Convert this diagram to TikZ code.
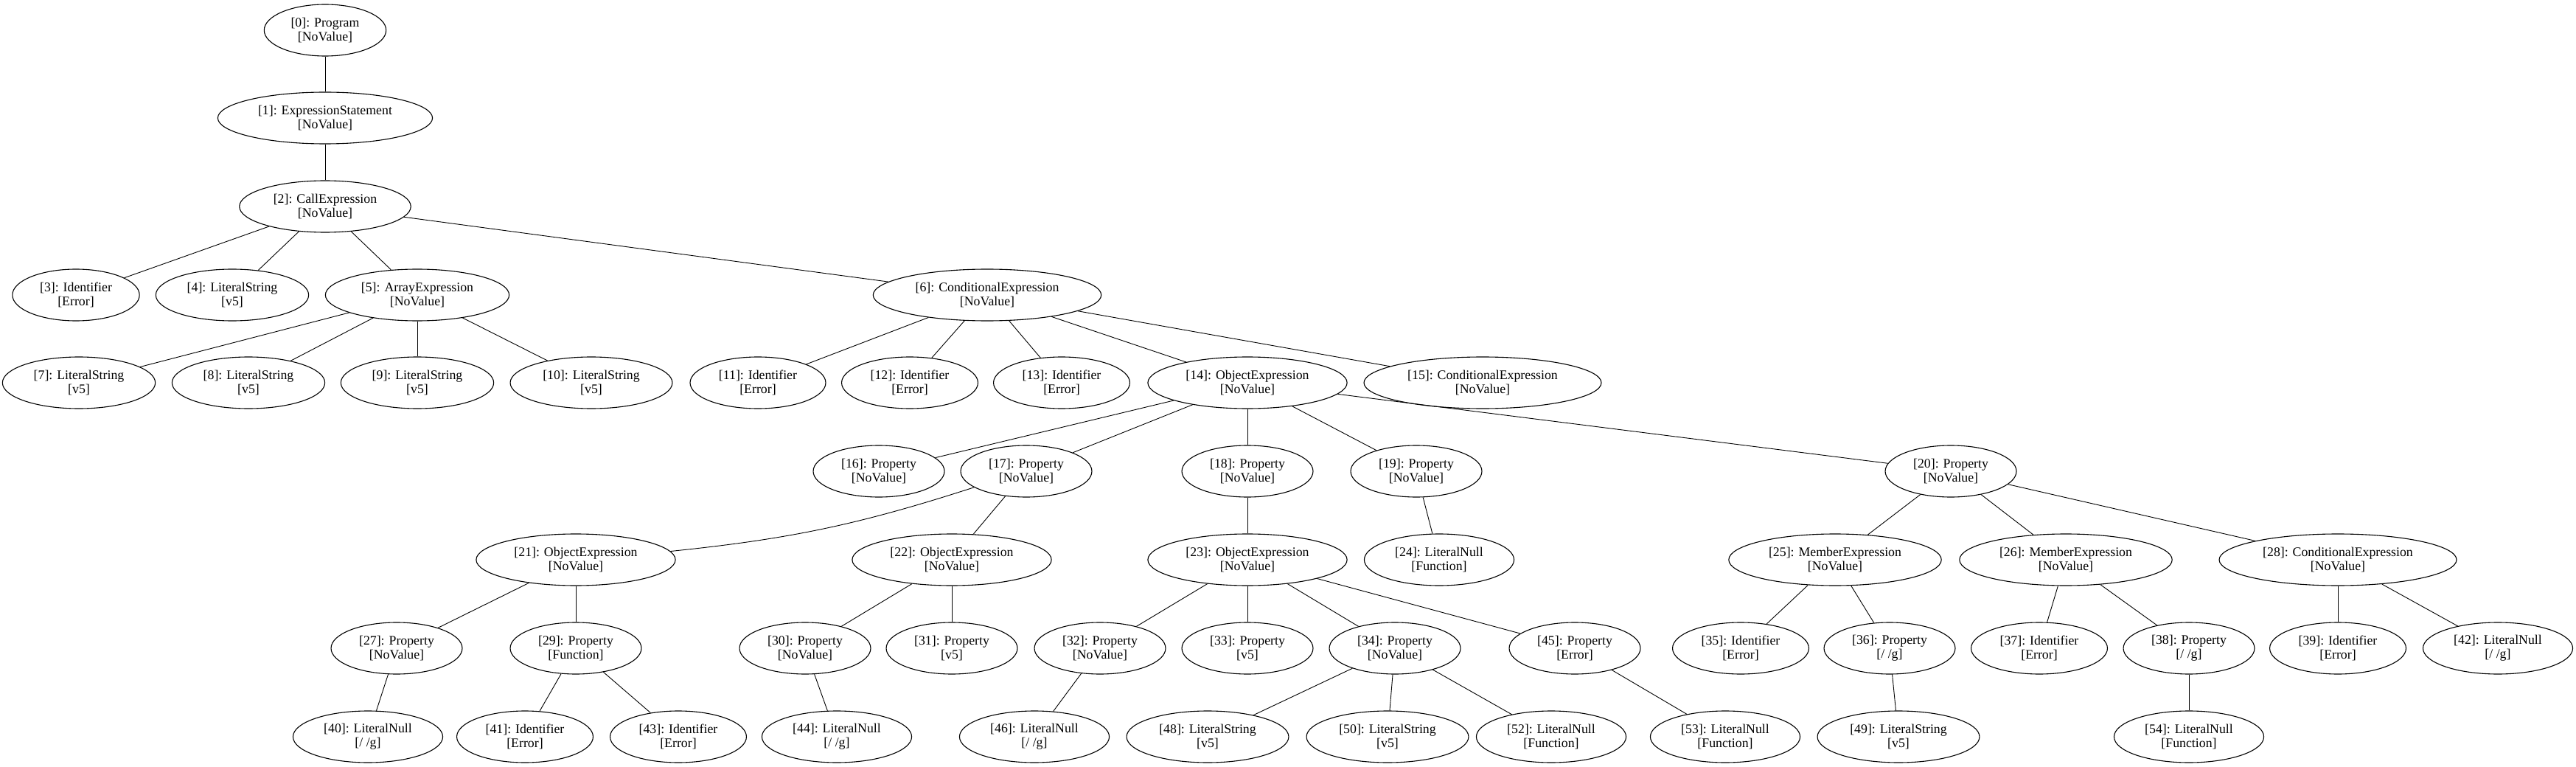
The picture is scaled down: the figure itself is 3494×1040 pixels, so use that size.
\documentclass[tikz,border=0pt]{standalone}
\usepackage{fontspec}
\setmainfont{Liberation Serif}
\usetikzlibrary{shapes.geometric}

\begin{document}
\begin{tikzpicture}[x=1pt,y=-1pt,
		ast/.style={draw, ellipse, line width=1.1pt, align=center,
			inner xsep=12pt, inner ysep=4pt, minimum height=70pt,
			font=\fontsize{17.8}{19}\selectfont},
		edge/.style={line width=0.9pt}]
			\useasboundingbox (0,0) rectangle (3494,1040);

			% top of the tree
			\node[ast] (n0) at (441,41) {[0]: Program\\{}[NoValue]};
			\node[ast] (n1) at (441,160) {[1]: ExpressionStatement\\{}[NoValue]};
			\node[ast] (n2) at (441,280) {[2]: CallExpression\\{}[NoValue]};

			% level 3
			\node[ast] (n3) at (103,400) {[3]: Identifier\\{}[Error]};
			\node[ast] (n4) at (315,400) {[4]: LiteralString\\{}[v5]};
			\node[ast] (n5) at (566,400) {[5]: ArrayExpression\\{}[NoValue]};
			\node[ast] (n6) at (1339,400) {[6]: ConditionalExpression\\{}[NoValue]};

			% level 4
			\node[ast] (n7) at (107,519) {[7]: LiteralString\\{}[v5]};
			\node[ast] (n8) at (337,519) {[8]: LiteralString\\{}[v5]};
			\node[ast] (n9) at (566,519) {[9]: LiteralString\\{}[v5]};
			\node[ast] (n10) at (802,519) {[10]: LiteralString\\{}[v5]};
			\node[ast] (n11) at (1028,519) {[11]: Identifier\\{}[Error]};
			\node[ast] (n12) at (1234,519) {[12]: Identifier\\{}[Error]};
			\node[ast] (n13) at (1440,519) {[13]: Identifier\\{}[Error]};
			\node[ast] (n14) at (1692,519) {[14]: ObjectExpression\\{}[NoValue]};
			\node[ast] (n15) at (2011,519) {[15]: ConditionalExpression\\{}[NoValue]};

			% level 5
			\node[ast] (n16) at (1192,639) {[16]: Property\\{}[NoValue]};
			\node[ast] (n17) at (1392,639) {[17]: Property\\{}[NoValue]};
			\node[ast] (n18) at (1692,639) {[18]: Property\\{}[NoValue]};
			\node[ast] (n19) at (1921,639) {[19]: Property\\{}[NoValue]};
			\node[ast] (n20) at (2646,639) {[20]: Property\\{}[NoValue]};

			% level 6
			\node[ast] (n21) at (781,759) {[21]: ObjectExpression\\{}[NoValue]};
			\node[ast] (n22) at (1291,759) {[22]: ObjectExpression\\{}[NoValue]};
			\node[ast] (n23) at (1692,759) {[23]: ObjectExpression\\{}[NoValue]};
			\node[ast] (n24) at (1952,759) {[24]: LiteralNull\\{}[Function]};
			\node[ast] (n25) at (2489,759) {[25]: MemberExpression\\{}[NoValue]};
			\node[ast] (n26) at (2802,759) {[26]: MemberExpression\\{}[NoValue]};
			\node[ast] (n28) at (3171,759) {[28]: ConditionalExpression\\{}[NoValue]};

			% level 7
			\node[ast] (n27) at (538,879) {[27]: Property\\{}[NoValue]};
			\node[ast] (n29) at (781,879) {[29]: Property\\{}[Function]};
			\node[ast] (n30) at (1092,879) {[30]: Property\\{}[NoValue]};
			\node[ast] (n31) at (1291,879) {[31]: Property\\{}[v5]};
			\node[ast] (n32) at (1492,879) {[32]: Property\\{}[NoValue]};
			\node[ast] (n33) at (1692,879) {[33]: Property\\{}[v5]};
			\node[ast] (n34) at (1892,879) {[34]: Property\\{}[NoValue]};
			\node[ast] (n45) at (2136,879) {[45]: Property\\{}[Error]};
			\node[ast] (n35) at (2361,879) {[35]: Identifier\\{}[Error]};
			\node[ast] (n36) at (2563,879) {[36]: Property\\{}[/ /g]};
			\node[ast] (n37) at (2766,879) {[37]: Identifier\\{}[Error]};
			\node[ast] (n38) at (2969,879) {[38]: Property\\{}[/ /g]};
			\node[ast] (n39) at (3171,879) {[39]: Identifier\\{}[Error]};
			\node[ast] (n42) at (3388,879) {[42]: LiteralNull\\{}[/ /g]};

			% level 8
			\node[ast] (n40) at (499,999) {[40]: LiteralNull\\{}[/ /g]};
			\node[ast] (n41) at (712,999) {[41]: Identifier\\{}[Error]};
			\node[ast] (n43) at (920,999) {[43]: Identifier\\{}[Error]};
			\node[ast] (n44) at (1135,999) {[44]: LiteralNull\\{}[/ /g]};
			\node[ast] (n46) at (1403,999) {[46]: LiteralNull\\{}[/ /g]};
			\node[ast] (n48) at (1638,999) {[48]: LiteralString\\{}[v5]};
			\node[ast] (n50) at (1882,999) {[50]: LiteralString\\{}[v5]};
			\node[ast] (n52) at (2104,999) {[52]: LiteralNull\\{}[Function]};
			\node[ast] (n53) at (2340,999) {[53]: LiteralNull\\{}[Function]};
			\node[ast] (n49) at (2575,999) {[49]: LiteralString\\{}[v5]};
			\node[ast] (n54) at (2969,999) {[54]: LiteralNull\\{}[Function]};

			% edges
			\draw[edge] (n0) -- (n1);
			\draw[edge] (n1) -- (n2);
			\draw[edge] (n2) -- (n3);
			\draw[edge] (n2) -- (n4);
			\draw[edge] (n2) -- (n5);
			\draw[edge] (n2) -- (n6);
			\draw[edge] (n5) -- (n7);
			\draw[edge] (n5) -- (n8);
			\draw[edge] (n5) -- (n9);
			\draw[edge] (n5) -- (n10);
			\draw[edge] (n6) -- (n11);
			\draw[edge] (n6) -- (n12);
			\draw[edge] (n6) -- (n13);
			\draw[edge] (n6) -- (n14);
			\draw[edge] (n6) -- (n15);
			\draw[edge] (n14) -- (n16);
			\draw[edge] (n14) -- (n17);
			\draw[edge] (n14) -- (n18);
			\draw[edge] (n14) -- (n19);
			\draw[edge] (n14) -- (n20);
			\draw[edge] (n17) to[bend left=6] (n21);
			\draw[edge] (n17) -- (n22);
			\draw[edge] (n18) -- (n23);
			\draw[edge] (n19) -- (n24);
			\draw[edge] (n20) -- (n25);
			\draw[edge] (n20) -- (n26);
			\draw[edge] (n20) -- (n28);
			\draw[edge] (n21) -- (n27);
			\draw[edge] (n21) -- (n29);
			\draw[edge] (n22) -- (n30);
			\draw[edge] (n22) -- (n31);
			\draw[edge] (n23) -- (n32);
			\draw[edge] (n23) -- (n33);
			\draw[edge] (n23) -- (n34);
			\draw[edge] (n23) -- (n45);
			\draw[edge] (n25) -- (n35);
			\draw[edge] (n25) -- (n36);
			\draw[edge] (n26) -- (n37);
			\draw[edge] (n26) -- (n38);
			\draw[edge] (n28) -- (n39);
			\draw[edge] (n28) -- (n42);
			\draw[edge] (n27) -- (n40);
			\draw[edge] (n29) -- (n41);
			\draw[edge] (n29) -- (n43);
			\draw[edge] (n30) -- (n44);
			\draw[edge] (n32) -- (n46);
			\draw[edge] (n34) -- (n48);
			\draw[edge] (n34) -- (n50);
			\draw[edge] (n34) -- (n52);
			\draw[edge] (n45) -- (n53);
			\draw[edge] (n36) -- (n49);
			\draw[edge] (n38) -- (n54);
		\end{tikzpicture}
\end{document}
